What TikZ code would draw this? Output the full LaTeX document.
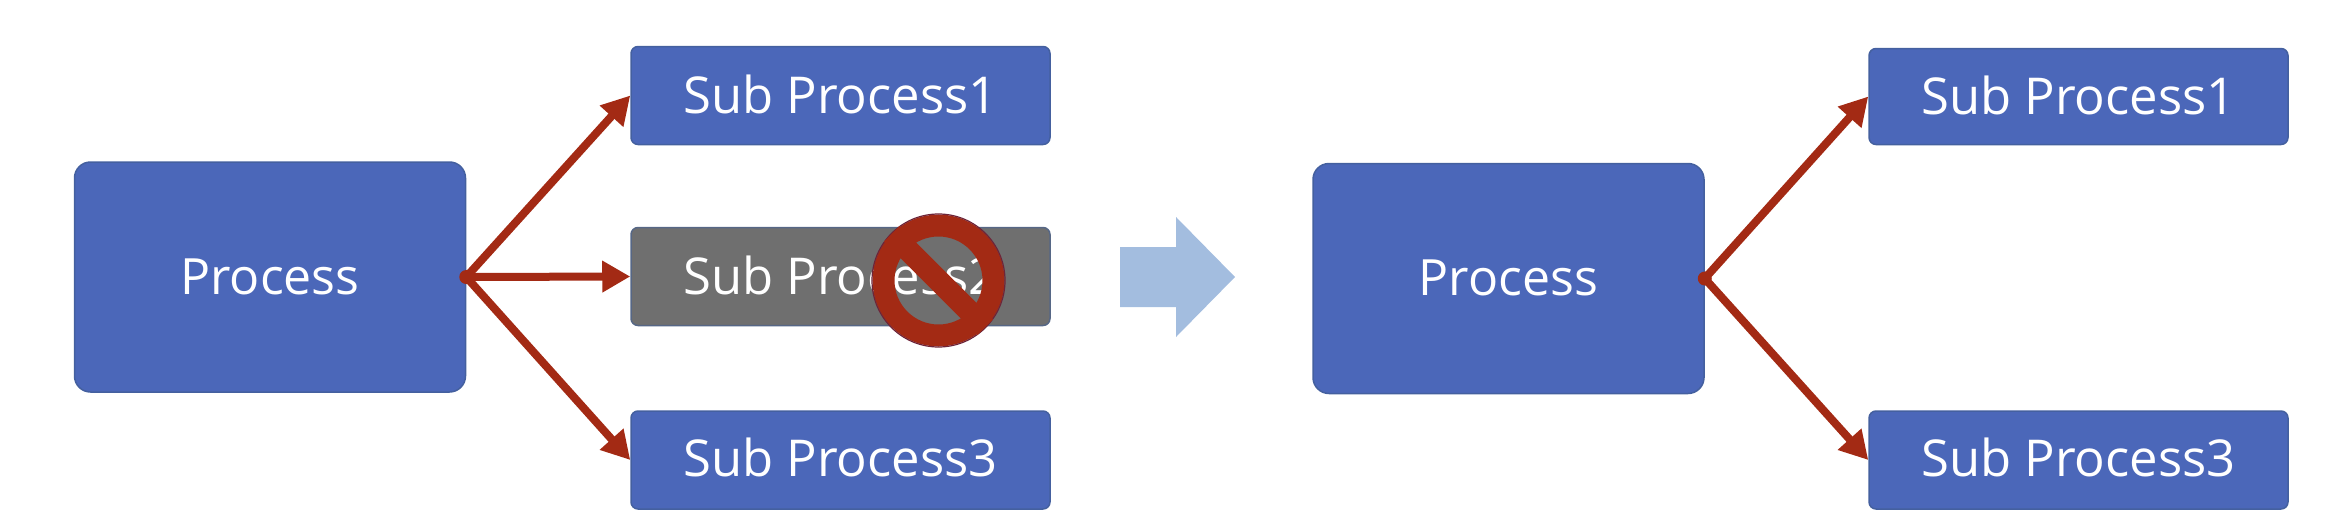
\documentclass[tikz,border=0pt]{standalone}
\usepackage{fontspec}
\setmainfont{Open Sans}
\usetikzlibrary{arrows.meta,shapes.arrows}
\definecolor{boxblue}{HTML}{4B67B9}
\definecolor{boxedge}{HTML}{44609F}
\definecolor{boxgray}{HTML}{6F6F6F}
\definecolor{grayedge}{HTML}{566786}
\definecolor{redline}{HTML}{A32A14}
\definecolor{noedge}{HTML}{6E2438}
\definecolor{bigarrow}{HTML}{A3BDDF}
\tikzset{
  procbox/.style={draw=boxedge,fill=boxblue,line width=1.5pt,rounded corners=16pt,minimum width=391pt,minimum height=230pt,inner sep=0pt,text=white,font=\fontsize{50}{60}\selectfont},
  subbox/.style={draw=boxedge,fill=boxblue,line width=1.5pt,rounded corners=7pt,minimum width=419pt,minimum height=98pt,inner sep=0pt,text=white,text depth=3pt,font=\fontsize{50.8}{60}\selectfont},
  greybox/.style={subbox,draw=grayedge,fill=boxgray},
  link/.style={draw=redline,line width=8pt,-{Triangle[length=28pt,width=30pt]}},
  nosign/.style={circle,draw=redline,line width=22pt,minimum size=110pt,inner sep=0pt},
  blockarrow/.style={fill=bigarrow,draw=none}
}
\begin{document}
\begin{tikzpicture}[x=1pt,y=-1pt]
\useasboundingbox (0,0) rectangle (2350,530);
\node[procbox] (p1) at (270,277) {Process};
\node[subbox] (a1) at (840.5,95.5) {Sub Process1};
\node[greybox] (a2) at (840.5,276.5) {Sub Process2};
\node[subbox,text depth=5pt] (a3) at (840.5,460) {Sub Process3};
\coordinate (o1) at (p1.east);
\draw[link] (o1) -- (a1.west);
\draw[link] (o1) -- (a2.west);
\draw[link] (o1) -- (a3.west);
\node[procbox,text depth=2pt] (p2) at (1508.5,278.5) {Process};
\node[subbox,minimum height=96pt] (b1) at (2078.5,96.5) {Sub Process1};
\node[subbox,text depth=5pt] (b3) at (2078.5,460) {Sub Process3};
\coordinate (o2) at (p2.east);
\draw[link] (o2) -- (b1.west);
\draw[link] (o2) -- (b3.west);
\fill[redline] (o1) circle (7pt);
\fill[redline] (o2) circle (7pt);
% prohibition sign
\node[nosign] (no) at (938.5,280.5) {};
\draw[noedge,line width=1.2pt] (no.center) circle (66.5pt);
\draw[redline,line width=22pt,line cap=butt] (no.135) -- (no.-45);
% transition arrow
\fill[blockarrow] (1120,247) -- (1176,247) -- (1176,217) -- (1235,277) -- (1176,337) -- (1176,307) -- (1120,307) -- cycle;
\end{tikzpicture}
\end{document}
